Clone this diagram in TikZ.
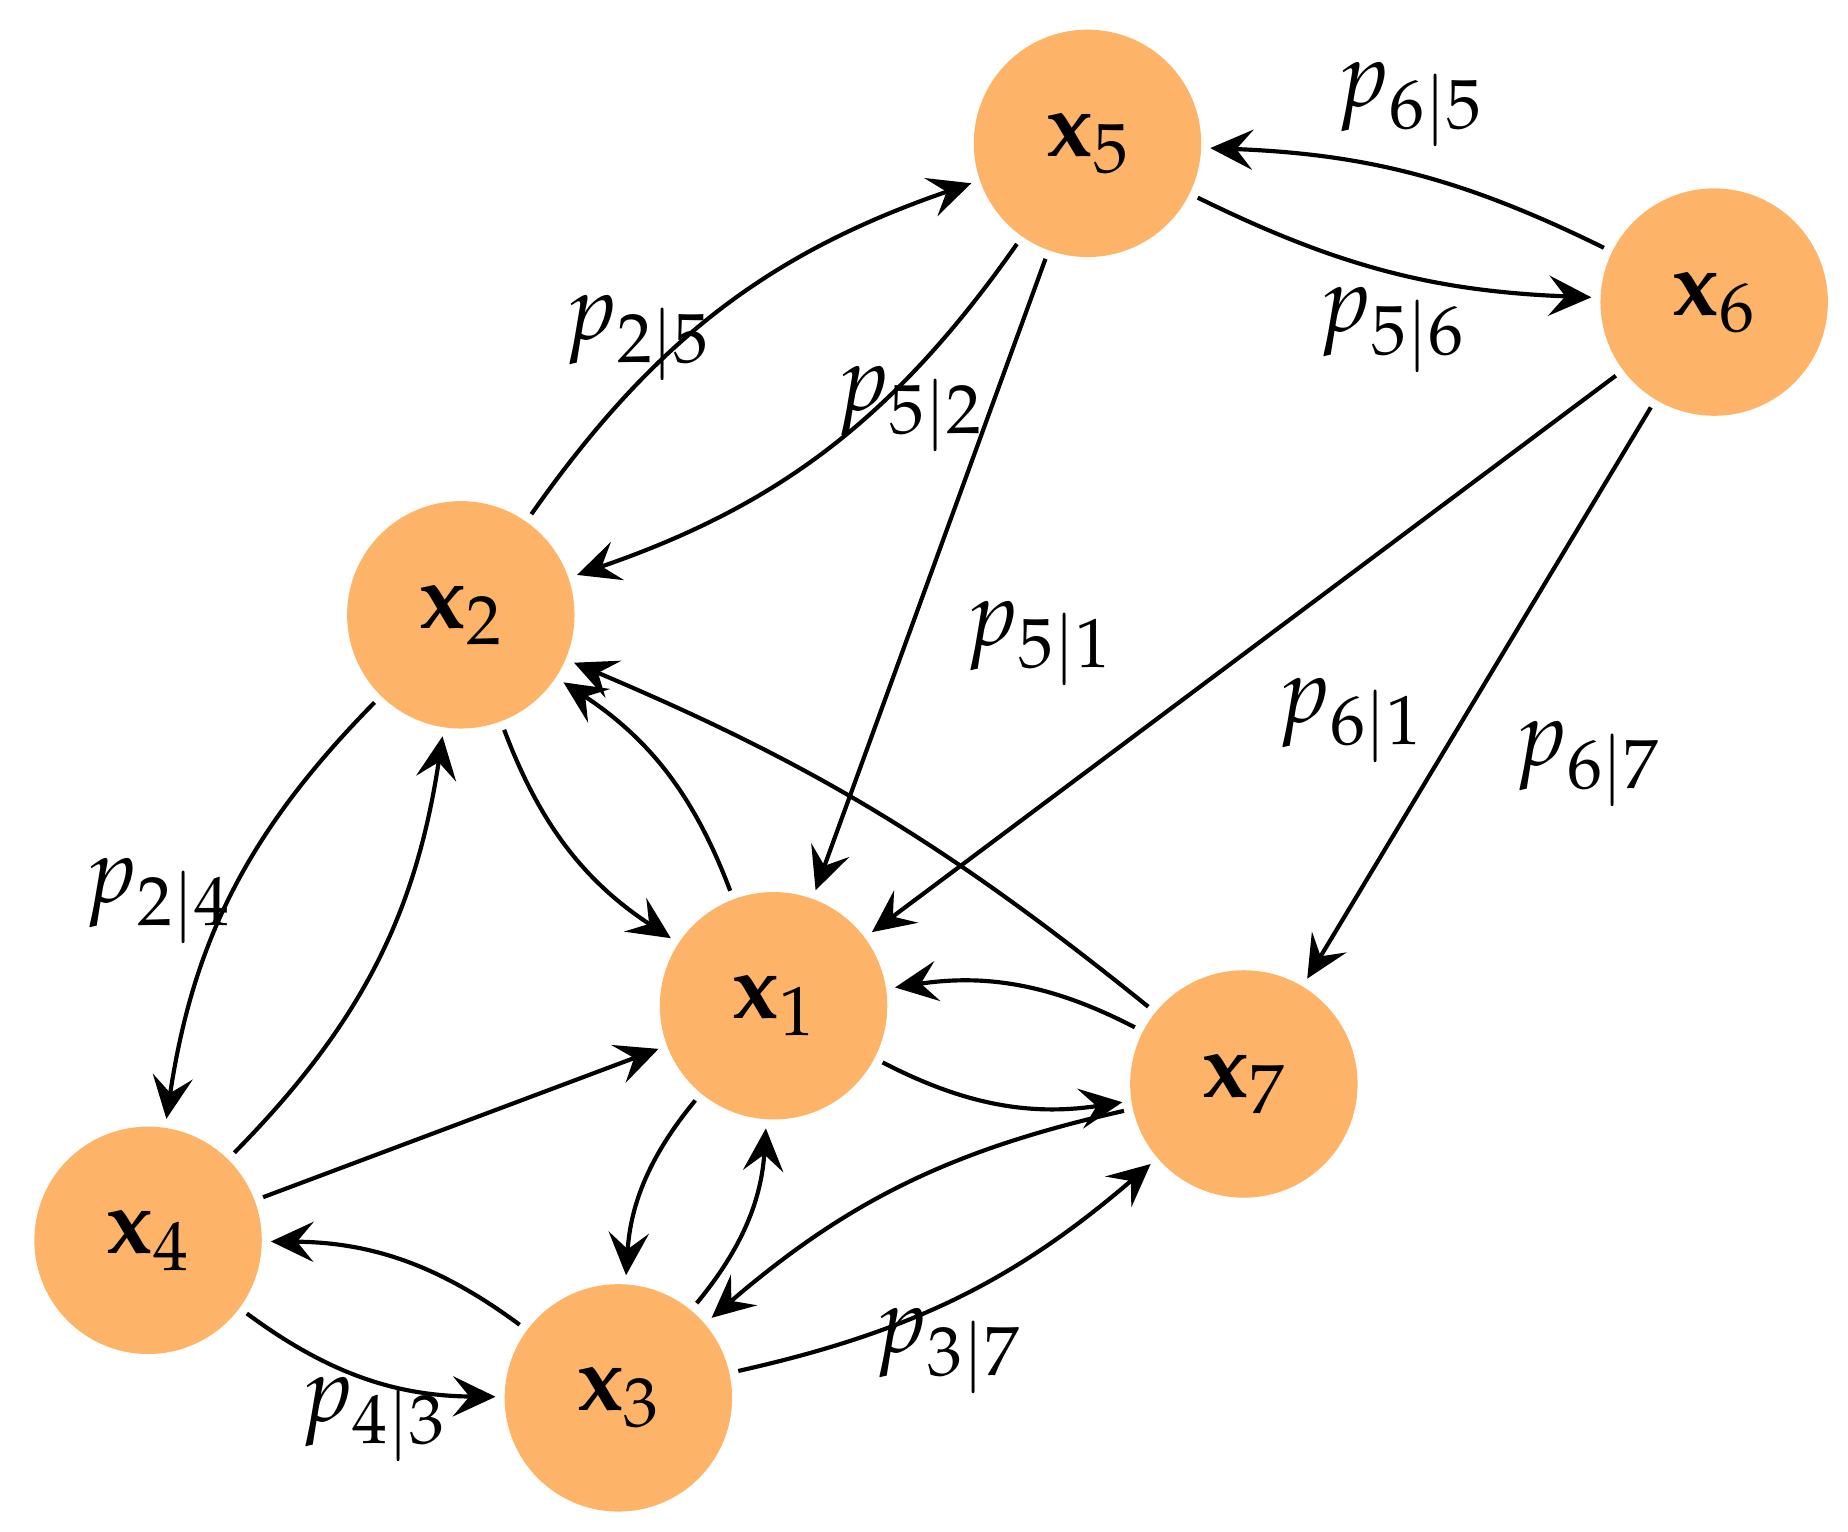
\documentclass[tikz,border=0pt]{standalone}
\usepackage{mathpazo}
\usetikzlibrary{arrows.meta,positioning}
\definecolor{nodeorange}{HTML}{FDB468}
\tikzset{
  state/.style={circle, fill=nodeorange, minimum size=1.92cm, inner sep=0pt, font=\fontsize{22}{26}\selectfont},
  lbl/.style={font=\fontsize{22}{26}\selectfont},
  arrow/.style={-{Stealth[length=3.6mm,width=3.4mm,inset=1.4mm]}, line width=1pt, shorten >=2pt, shorten <=2pt}
}
\begin{document}
\begin{tikzpicture}[x=1cm,y=-1cm]
  \useasboundingbox (0,0) rectangle (15.6,12.93);
  \node (x5) [state] at (9.18,1.21) {$\mathbf{x}_5$};
  \node (x6) [state] at (14.47,2.55) {$\mathbf{x}_6$};
  \node (x2) [state] at (3.89,5.19) {$\mathbf{x}_2$};
  \node (x1) [state] at (6.53,8.49) {$\mathbf{x}_1$};
  \node (x7) [state] at (10.50,9.15) {$\mathbf{x}_7$};
  \node (x4) [state] at (1.25,10.47) {$\mathbf{x}_4$};
  \node (x3) [state] at (5.22,11.80) {$\mathbf{x}_3$};

  \node (l65) [lbl] at (11.90,0.88) {$p_{6|5}$};
  \node (l56) [lbl] at (11.75,2.78) {$p_{5|6}$};
  \node (l25) [lbl] at (5.38,2.85) {$p_{2|5}$};
  \node (l52) [lbl] at (7.68,3.45) {$p_{5|2}$};
  \node (l51) [lbl] at (8.77,5.43) {$p_{5|1}$};
  \node (l61) [lbl] at (11.40,6.08) {$p_{6|1}$};
  \node (l67) [lbl] at (13.40,6.45) {$p_{6|7}$};
  \node (l24) [lbl] at (1.33,7.60) {$p_{2|4}$};
  \node (l43) [lbl] at (3.15,11.98) {$p_{4|3}$};
  \node (l37) [lbl] at (8.00,11.40) {$p_{3|7}$};

  \draw [arrow] (x2) to[bend left=18] (x5);
  \draw [arrow] (x5) to[bend left=18] (x2);
  \draw [arrow] (x5) to[bend right=12] (x6);
  \draw [arrow] (x6) to[bend right=12] (x5);
  \draw [arrow] (x2) to[bend right=18] (x4);
  \draw [arrow] (x4) to[bend right=18] (x2);
  \draw [arrow] (x2) to[bend right=18] (x1);
  \draw [arrow] (x1) to[bend right=18] (x2);
  \draw [arrow] (x1) to[bend right=18] (x3);
  \draw [arrow] (x3) to[bend right=18] (x1);
  \draw [arrow] (x4) to[bend right=18] (x3);
  \draw [arrow] (x3) to[bend right=18] (x4);
  \draw [arrow] (x1) to[bend right=18] (x7);
  \draw [arrow] (x7) to[bend right=18] (x1);
  \draw [arrow] (x3) to[bend right=14] (x7);
  \draw [arrow] (x7) to[bend right=14] (x3);
  \draw [arrow] (x7) to[bend right=8] (x2);
  \draw [arrow] (x5) -- (x1);
  \draw [arrow] (x6) -- (x1);
  \draw [arrow] (x6) -- (x7);
  \draw [arrow] (x4) -- (x1);
\end{tikzpicture}
\end{document}
